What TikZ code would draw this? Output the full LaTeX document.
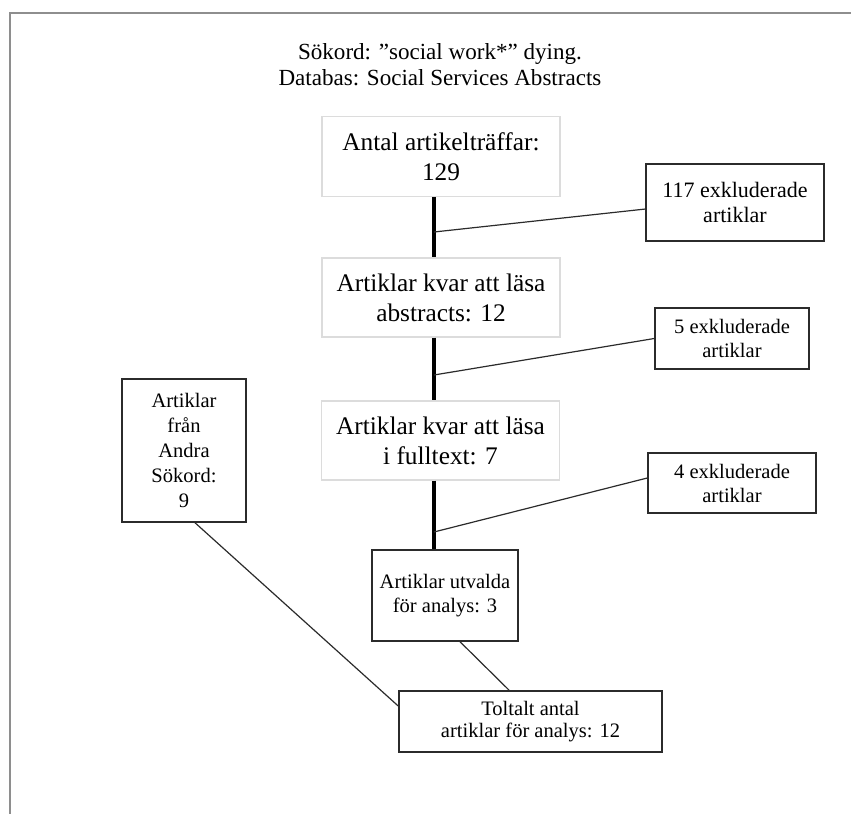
\documentclass[tikz,border=0pt]{standalone}
\usepackage{fontspec}
\setmainfont{Liberation Serif}
\usetikzlibrary{positioning}
\definecolor{framegray}{HTML}{8E8E8E}
\definecolor{stagegray}{HTML}{DCDCDC}
\definecolor{inkgray}{HTML}{2B2B2B}

\begin{document}
\begin{tikzpicture}[
    x=0.75pt,
    y=-0.75pt,
    stage/.style={
        draw=stagegray,
        line width=0.8pt,
        minimum width=178.5pt,
        minimum height=60pt,
        inner sep=0pt,
        align=center,
        font=\fontsize{19}{22.5}\selectfont
    },
    note/.style={
        draw=inkgray,
        line width=1.1pt,
        inner sep=0pt,
        align=center,
        font=\fontsize{15.4}{18}\selectfont
    },
    spine/.style={
        line width=3pt
    },
    link/.style={
        draw=inkgray,
        line width=0.9pt
    }
]
\useasboundingbox (0,0) rectangle (851,814);

% Page frame
\draw[framegray,line width=1.5pt] (10,814) -- (10,13) -- (851,13);

% Title
\node[align=center,font=\fontsize{17.3}{19.5}\selectfont] (title) at (440,65)
    {Sökord: ”social work*” dying.\\Databas: Social Services Abstracts};

% Stages
\node[stage] (hits) at (441,156.5) {Antal artikelträffar:\\129};
\node[stage,minimum height=59.25pt] (abstr) at (441,297.5) {Artiklar kvar att läsa\\abstracts: 12};
\node[stage,minimum height=59.25pt] (fulltxt) at (440.5,440.5) {Artiklar kvar att läsa\\i fulltext: 7};
\node[note,minimum width=109.5pt,minimum height=68.25pt] (chosen) at (445,595.5)
    {Artiklar utvalda\\för analys: 3};
\node[note,minimum width=197.25pt,minimum height=45.75pt,font=\fontsize{15.4}{16.5}\selectfont] (total) at (530.5,721.5)
    {Toltalt antal\\artiklar för analys: 12};

% Excluded
\node[note,minimum width=133.5pt,minimum height=57.75pt,font=\fontsize{16.5}{18.75}\selectfont] (ex117) at (735,202.5)
    {117 exkluderade\\artiklar};
\node[note,minimum width=115.5pt,minimum height=45.75pt] (ex5) at (732,338.5)
    {5 exkluderade\\artiklar};
\node[note,minimum width=126pt,minimum height=45pt] (ex4) at (732,483)
    {4 exkluderade\\artiklar};

% Other search terms
\node[note,minimum width=93pt,minimum height=107.25pt,font=\fontsize{15.4}{18.75}\selectfont] (other) at (184,450.5)
    {Artiklar\\från\\Andra\\Sökord:\\9};

% Spine
\draw[spine] ([xshift=-5pt]hits.south) -- ([xshift=-5pt]abstr.north);
\draw[spine] ([xshift=-5pt]abstr.south) -- ([xshift=-5pt]abstr.south |- fulltxt.north);
\draw[spine] ([xshift=-4.6pt]fulltxt.south) -- ([xshift=-4.6pt]fulltxt.south |- chosen.north);

% Branches to the excluded boxes
\coordinate (j1) at (434,232);
\coordinate (j2) at (434,375);
\coordinate (j3) at (434,532);
\draw[link] (j1) -- ([yshift=-4.9pt]ex117.west);
\draw[link] (j2) -- (ex5.west);
\draw[link] (j3) -- ([yshift=3.75pt]ex4.west);

% Into the total
\draw[link] ([xshift=11.25pt]chosen.south) -- ([xshift=-16pt]total.north);
\draw[link] ([xshift=8.25pt]other.south) -- ([yshift=11.6pt]total.west);

\end{tikzpicture}
\end{document}
